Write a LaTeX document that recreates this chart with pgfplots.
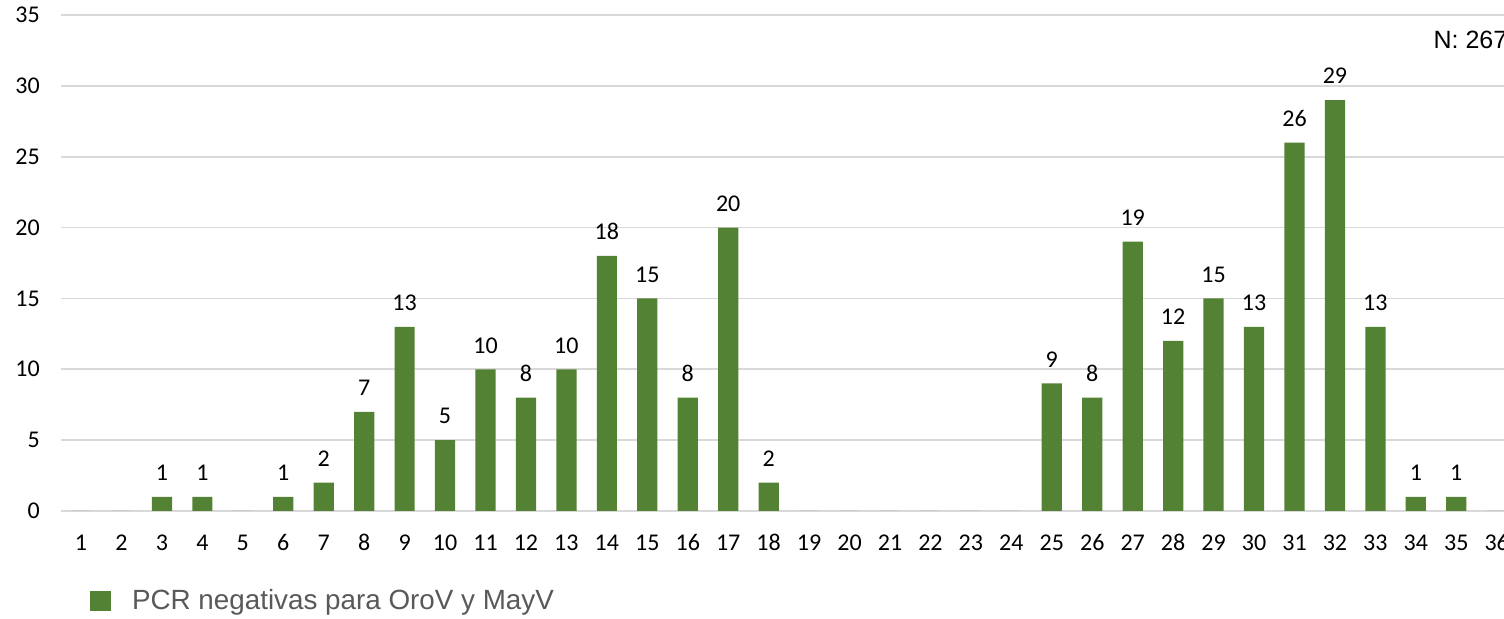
\documentclass[border=0pt]{standalone}
\usepackage{fontspec}
\setmainfont{Carlito}
\newfontfamily\arial{Liberation Sans}
\usepackage{pgfplots}
\pgfplotsset{compat=1.18}
\definecolor{barg}{HTML}{548235}
\definecolor{gridg}{HTML}{D9D9D9}
\definecolor{legtxt}{HTML}{595959}
\begin{document}
\begin{tikzpicture}
\begin{axis}[
    at={(0,0)}, anchor=origin,
    scale only axis,
    width=721.6pt, height=248pt,
    xmin=0.5, xmax=36.18,
    ymin=0, ymax=35,
    xtick={1,...,36},
    ytick={0,5,...,35},
    major tick length=0pt,
    axis line style={draw=none},
    ymajorgrids,
    grid style={gridg, line width=0.8pt},
    /pgf/number format/assume math mode=true,
    tick label style={font=\fontsize{12}{14}\selectfont, text=black},
    xticklabel style={anchor=base, yshift=-20pt},
    yticklabel style={xshift=-7pt},
    ybar, bar width=0.5,
    nodes near coords={\pgfmathfloatifflags{\pgfplotspointmeta}{0}{}{\pgfmathprintnumber{\pgfplotspointmeta}}},
    nodes near coords style={font=\fontsize{12}{14}\selectfont, text=black, yshift=4.5pt},
    legend style={at={(0.02,-0.181)}, anchor=west, draw=none, fill=none,
        inner sep=0pt, font=\arial\fontsize{13.9}{16}\selectfont, text=legtxt},
    legend image code/.code={\fill[barg] (0pt,-5pt) rectangle (10.5pt,5pt); \path (19pt,0pt);},
    clip=false,
]
\addplot[fill=barg, draw=none] coordinates {
    (1,0) (2,0) (3,1) (4,1) (5,0) (6,1) (7,2) (8,7) (9,13) (10,5)
    (11,10) (12,8) (13,10) (14,18) (15,15) (16,8) (17,20) (18,2) (19,0) (20,0)
    (21,0) (22,0) (23,0) (24,0) (25,9) (26,8) (27,19) (28,12) (29,15) (30,13)
    (31,26) (32,29) (33,13) (34,1) (35,1) (36,0)
};
\addlegendentry{PCR negativas para OroV y MayV}
\end{axis}
\node[anchor=west, inner sep=0pt, font=\arial\fontsize{12.5}{15}\selectfont] at (686.2pt,235.5pt) {N: 267};
\pgfresetboundingbox
\useasboundingbox (-30.4pt,-54pt) rectangle (721.6pt,255.5pt);
\end{tikzpicture}
\end{document}
